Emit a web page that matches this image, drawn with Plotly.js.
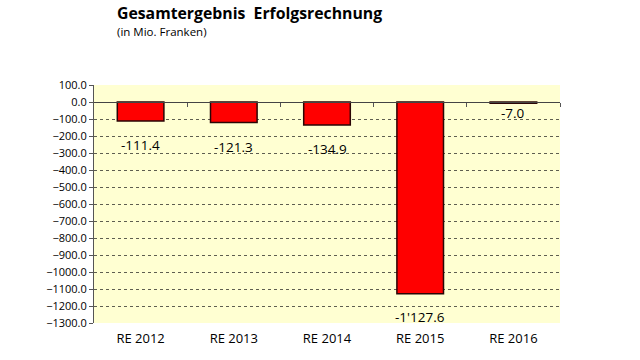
<!DOCTYPE html>
<html><head><meta charset="utf-8">
<script src="https://cdn.plot.ly/plotly-3.0.1.min.js"></script>
<style>html,body{margin:0;padding:0;background:#fff}#chart{width:640px;height:360px}</style>
</head><body><div id="chart"></div>
<script>
const categories = ['RE 2012','RE 2013','RE 2014','RE 2015','RE 2016'];
const values = [-111.4, -121.3, -134.9, -1127.6, -7.0];
const valueLabels = ['-111.4','-121.3','-134.9',"-1'127.6",'-7.0'];

const labelShift = [-24,-24,-24,-23,-10];
const font = "'Open Sans', 'DejaVu Sans', sans-serif";

const trace = {
  type:'bar', x:categories.map((c,i)=>i), y:values,
  width:0.5,
  marker:{color:'#FF0000', line:{color:'#2a0505', width:1.5}},
  hoverinfo:'none'
};
const tickV=[]; for(let v=100; v>=-1300; v-=100) tickV.push(v);
const layout = {
  width:640, height:360,
  margin:{l:94, r:80, t:85, b:37},
  paper_bgcolor:'#ffffff', plot_bgcolor:'#FFFFD2',
  showlegend:false, bargap:0.5,
  font:{family:font, size:11, color:'#000'},
  xaxis:{range:[-0.5,4.5], tickvals:[0,1,2,3,4], ticktext:categories,
    showgrid:false, zeroline:false, showline:false, ticks:'', tickfont:{size:13, family:font}, ticklabelstandoff:6},
  xaxis2:{overlaying:'x', anchor:'free', position:1300/1400, range:[-0.5,4.5],
    tickvals:[0.5,1.5,2.5,3.5,4.5], showticklabels:false, ticks:'outside', ticklen:4, tickcolor:'#555',
    showline:true, linecolor:'#444', linewidth:1.3, showgrid:false, zeroline:false},
  yaxis:{range:[-1300,100], tickvals:tickV, tickformat:'.1f', showline:true, linecolor:'#555', linewidth:1,
    ticks:'outside', ticklen:4, tickcolor:'#555', gridcolor:'#5e5e50', griddash:'dot', gridwidth:1,
    zeroline:false, tickfont:{size:11, family:font}},
  annotations: values.map((v,i)=>({x:i, y:v, xref:'x', yref:'y', text:valueLabels[i], showarrow:false,
    yshift:labelShift[i], font:{size:13.5, family:font, color:'#000'}})).concat([
    {xref:'paper', yref:'paper', x:0.045, y:1, yshift:59, xanchor:'left', yanchor:'bottom', showarrow:false,
     text:'<b>Gesamtergebnis  Erfolgsrechnung</b>', font:{size:15.8, family:font, color:'#000'}},
    {xref:'paper', yref:'paper', x:0.045, y:1, yshift:44, xanchor:'left', yanchor:'bottom', showarrow:false,
     text:'(in Mio. Franken)', font:{size:11.5, family:font, color:'#000'}}
  ])
};
const dummy = {type:'scatter', x:[0], y:[0], xaxis:'x2', mode:'none', hoverinfo:'none'};
Plotly.newPlot('chart',[trace, dummy],layout,{staticPlot:true});
</script></body></html>
